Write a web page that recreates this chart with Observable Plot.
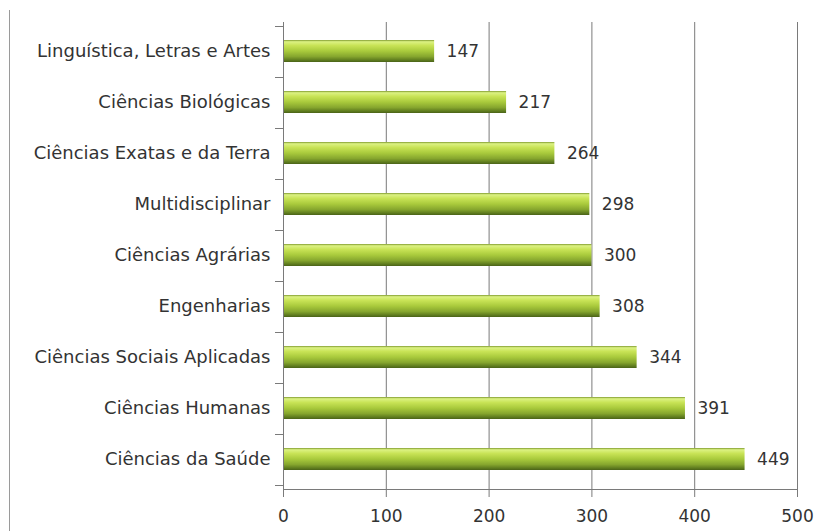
<!DOCTYPE html>
<html>
<head>
<meta charset="utf-8">
<script src="https://cdn.jsdelivr.net/npm/d3@7"></script>
<script src="https://cdn.jsdelivr.net/npm/@observablehq/plot@0.6"></script>
<style>
  html, body { margin: 0; padding: 0; background: #fff; }
  #chart { position: relative; width: 829px; height: 531px; overflow: hidden; }
  #frame { position: absolute; left: 9px; top: 10px; width: 1px; bottom: 0; background: #9a9a9a; }
</style>
</head>
<body>
<div id="chart"><div id="frame"></div></div>
<script>
const categories = [
  "Linguística, Letras e Artes",
  "Ciências Biológicas",
  "Ciências Exatas e da Terra",
  "Multidisciplinar",
  "Ciências Agrárias",
  "Engenharias",
  "Ciências Sociais Aplicadas",
  "Ciências Humanas",
  "Ciências da Saúde"
];
const values = [147, 217, 264, 298, 300, 308, 344, 391, 449];
const xTicks = [0, 100, 200, 300, 400, 500];

const data = categories.map((c, i) => ({area: c, value: values[i]}));
const font = "'DejaVu Sans', sans-serif";

const defs = () => {
  const g = d3.create("svg:defs");
  const lg = g.append("linearGradient").attr("id", "barGrad")
    .attr("x1", 0).attr("y1", 0).attr("x2", 0).attr("y2", 1);
  [[0, "#7f9a2e"], [0.08, "#dcf283"], [0.25, "#c8e356"], [0.5, "#a9ca3c"],
   [0.75, "#86a62e"], [0.92, "#5d7a1e"], [1, "#4a6218"]]
    .forEach(([o, c]) => lg.append("stop").attr("offset", o).attr("stop-color", c));
  return g.node();
};

const bandTicks = (index, scales, values, dimensions) => {
  const y = scales.y;
  const step = y.step ? y.step() : (dimensions.height - dimensions.marginTop - dimensions.marginBottom) / categories.length;
  const x0 = dimensions.marginLeft;
  const g = d3.create("svg:g").attr("stroke", "#7a7a7a").attr("stroke-width", 1);
  const ys = categories.map(c => y(c) + y.bandwidth() / 2 - step / 2);
  ys.push(y(categories[categories.length - 1]) + y.bandwidth() / 2 + step / 2);
  ys.forEach(v => g.append("line")
    .attr("x1", x0 - 8).attr("x2", x0)
    .attr("y1", Math.round(v) + 0.5).attr("y2", Math.round(v) + 0.5));
  return g.node();
};

const chart = Plot.plot({
  width: 829,
  height: 531,
  marginLeft: 283,
  marginRight: 32,
  marginTop: 22,
  marginBottom: 42,
  style: {fontFamily: font, fontSize: "17px", color: "#333", background: "transparent"},
  x: {domain: [0, 500], ticks: xTicks, label: null},
  y: {domain: categories, paddingInner: 0.56, paddingOuter: 0.28, label: null},
  marks: [
    defs,
    Plot.gridX(xTicks.filter(d => d > 0), {stroke: "#7a7a7a", strokeOpacity: 1, strokeWidth: 1}),
    Plot.barX(data, {x: "value", y: "area", fill: "url(#barGrad)"}),
    Plot.text(data, {x: "value", y: "area", text: d => String(d.value), dx: 12, textAnchor: "start",
      fontSize: 17, fill: "#333", fontFamily: font}),
    Plot.axisY({tickSize: 0, tickPadding: 13, fontSize: 18, label: null}),
    Plot.ruleX([0], {stroke: "#7a7a7a"}),
    Plot.axisX({ticks: xTicks, tickSize: 8, tickPadding: 12, fontSize: 17, stroke: "#7a7a7a", label: null}),
    bandTicks,
    Plot.frame({anchor: "bottom", stroke: "#7a7a7a"})
  ]
});
document.getElementById("chart").appendChild(chart);
</script>
</body>
</html>
